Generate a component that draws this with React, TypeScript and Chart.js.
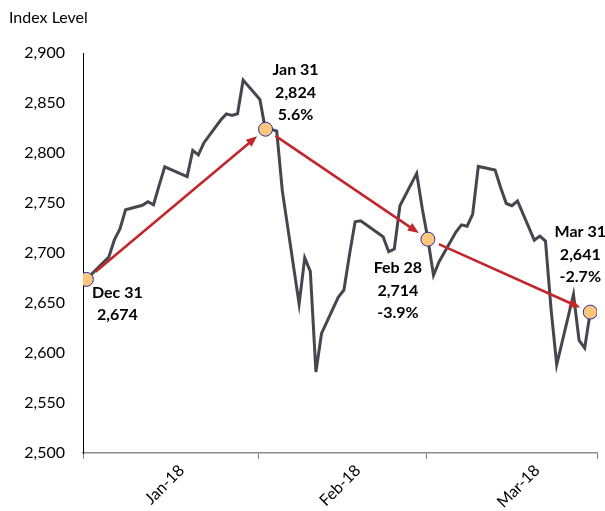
import React, { useEffect, useRef } from 'react';
import { Chart, registerables } from 'chart.js';

Chart.register(...registerables);

// ---- Data ----
const dates = [
  '2017-12-29', '2018-01-02', '2018-01-03', '2018-01-04', '2018-01-05', '2018-01-08', '2018-01-09',
  '2018-01-10', '2018-01-11', '2018-01-12', '2018-01-16', '2018-01-17', '2018-01-18', '2018-01-19',
  '2018-01-22', '2018-01-23', '2018-01-24', '2018-01-25', '2018-01-26', '2018-01-29', '2018-01-30',
  '2018-01-31', '2018-02-01', '2018-02-02', '2018-02-05', '2018-02-06', '2018-02-07', '2018-02-08',
  '2018-02-09', '2018-02-12', '2018-02-13', '2018-02-14', '2018-02-15', '2018-02-16', '2018-02-20',
  '2018-02-21', '2018-02-22', '2018-02-23', '2018-02-26', '2018-02-27', '2018-02-28', '2018-03-01',
  '2018-03-02', '2018-03-05', '2018-03-06', '2018-03-07', '2018-03-08', '2018-03-09', '2018-03-12',
  '2018-03-13', '2018-03-14', '2018-03-15', '2018-03-16', '2018-03-19', '2018-03-20', '2018-03-21',
  '2018-03-22', '2018-03-23', '2018-03-26', '2018-03-27', '2018-03-28', '2018-03-29',
];
const closes = [
  2673.61, 2695.81, 2713.06, 2723.99, 2743.15, 2747.71, 2751.29,
  2748.23, 2767.56, 2786.24, 2776.42, 2802.56, 2798.03, 2810.30,
  2832.97, 2839.13, 2837.54, 2839.25, 2872.87, 2853.53, 2822.43,
  2823.81, 2821.98, 2762.13, 2648.94, 2695.14, 2681.66, 2581.00,
  2619.55, 2656.00, 2662.94, 2698.63, 2731.20, 2732.22, 2716.26,
  2701.33, 2703.96, 2747.30, 2779.60, 2744.28, 2713.83, 2677.67,
  2691.25, 2720.94, 2728.12, 2726.80, 2738.97, 2786.57, 2783.02,
  2765.31, 2749.48, 2747.33, 2752.01, 2712.92, 2716.94, 2711.93,
  2643.69, 2588.26, 2658.55, 2612.62, 2605.00, 2640.87,
];
const markerDates = ['2017-12-29', '2018-01-30', '2018-02-28', '2018-03-29'];
const markerValues = [2673.61, 2823.81, 2713.83, 2640.87];
const markerTitles = ['Dec 31', 'Jan 31', 'Feb 28', 'Mar 31'];
const monthLabels = ['Jan-18', 'Feb-18', 'Mar-18'];
const yMin = 2500;
const yMax = 2900;
const yStep = 50;
const axisTitle = 'Index Level';

// ---- Helpers ----
const BASE = Date.UTC(2017, 11, 29);
const dayOf = (s: string) => (Date.parse(s) - BASE) / 86400000;

// x-scale layout (days from first observation)
const X_MIN = -0.6;
const X_MAX = 91.2;
const MONTH_BOUNDS = [X_MIN, 30.8, 60.8, X_MAX];
const MONTH_LABEL_POS = [17, 48.5, 80.5];

const FONT = 'Lato, "Open Sans", sans-serif';

const fmtNum = (v: number) => Math.round(v).toLocaleString('en-US');

// label offsets relative to marker (pixels)
const LABEL_OFFSETS = [
  { dx: 31, dy: 13 },
  { dx: 30, dy: -59 },
  { dx: -30, dy: 29 },
  { dx: -10, dy: -80 },
];
const LINE_H = 22.5;

const annotPlugin = {
  id: 'annot',
  afterDatasetsDraw(chart: any) {
    const { ctx, scales } = chart;
    const xs = scales.x;
    const ys = scales.y;
    const pts = markerDates.map((d, i) => ({
      x: xs.getPixelForValue(dayOf(d)),
      y: ys.getPixelForValue(markerValues[i]),
    }));
    ctx.save();
    const red = '#C1272D';
    for (let i = 0; i < pts.length - 1; i++) {
      const a = pts[i];
      const b = pts[i + 1];
      const dx = b.x - a.x;
      const dy = b.y - a.y;
      const len = Math.hypot(dx, dy);
      const ux = dx / len;
      const uy = dy / len;
      const sx = a.x + ux * 12;
      const sy = a.y + uy * 12;
      const ex = b.x - ux * 11;
      const ey = b.y - uy * 11;
      const head = 11;
      const hw = 4.5;
      ctx.strokeStyle = red;
      ctx.lineWidth = 2.6;
      ctx.lineCap = 'butt';
      ctx.beginPath();
      ctx.moveTo(sx, sy);
      ctx.lineTo(ex - ux * head * 0.8, ey - uy * head * 0.8);
      ctx.stroke();
      ctx.fillStyle = red;
      ctx.beginPath();
      ctx.moveTo(ex, ey);
      ctx.lineTo(ex - ux * head - uy * hw, ey - uy * head + ux * hw);
      ctx.lineTo(ex - ux * head + uy * hw, ey - uy * head - ux * hw);
      ctx.closePath();
      ctx.fill();
    }
    ctx.restore();
  },
  afterDraw(chart: any) {
    const { ctx, scales } = chart;
    const xs = scales.x;
    const ys = scales.y;
    ctx.save();
    ctx.fillStyle = '#000';
    ctx.font = `16px ${FONT}`;
    ctx.textAlign = 'left';
    ctx.textBaseline = 'middle';
    ctx.fillText(axisTitle, 9, 18);
    ctx.font = `bold 16px ${FONT}`;
    ctx.textAlign = 'center';
    markerDates.forEach((d, i) => {
      const px = xs.getPixelForValue(dayOf(d));
      const py = ys.getPixelForValue(markerValues[i]);
      const lines = [markerTitles[i], fmtNum(markerValues[i])];
      if (i > 0) {
        const pct = (markerValues[i] / markerValues[i - 1] - 1) * 100;
        lines.push(pct.toFixed(1) + '%');
      }
      const off = LABEL_OFFSETS[i];
      lines.forEach((t, k) => {
        ctx.fillText(t, px + off.dx, py + off.dy + k * LINE_H);
      });
    });
    ctx.restore();
  },
};

const isBound = (v: number) => MONTH_BOUNDS.some((b) => Math.abs(b - v) < 1e-6);

export default function App() {
  const ref = useRef<HTMLCanvasElement | null>(null);
  useEffect(() => {
    if (!ref.current) return;
    const linePts = dates.map((d, i) => ({ x: dayOf(d), y: closes[i] }));
    const markPts = markerDates.map((d, i) => ({ x: dayOf(d), y: markerValues[i] }));
    const chart = new Chart(ref.current, {
      type: 'line',
      data: {
        datasets: [
          {
            data: markPts,
            showLine: false,
            pointRadius: 7,
            pointHoverRadius: 7,
            pointBackgroundColor: '#FBC77C',
            pointBorderColor: '#2B2B9C',
            pointBorderWidth: 1,
            order: 0,
          },
          {
            data: linePts,
            borderColor: '#46464F',
            borderWidth: 3,
            pointRadius: 0,
            tension: 0,
            fill: false,
            order: 1,
          },
        ],
      },
      options: {
        animation: false,
        responsive: false,
        devicePixelRatio: 1,
        layout: { padding: { left: 0, top: 53, right: 8, bottom: 0 } },
        plugins: { legend: { display: false }, tooltip: { enabled: false } },
        scales: {
          x: {
            type: 'linear',
            min: X_MIN,
            max: X_MAX,
            afterBuildTicks: (s: any) => {
              const vals = [...MONTH_BOUNDS, ...MONTH_LABEL_POS].sort((a, b) => a - b);
              s.ticks = vals.map((v) => ({ value: v }));
            },
            afterFit: (s: any) => {
              s.height = 58;
              s.paddingLeft = 0;
              s.paddingRight = 0;
            },
            ticks: {
              autoSkip: false,
              minRotation: 45,
              maxRotation: 45,
              padding: 2,
              color: '#000',
              font: { family: FONT, size: 16 },
              callback: (v: any) => {
                const idx = MONTH_LABEL_POS.findIndex((p) => Math.abs(p - v) < 1e-6);
                return idx >= 0 ? monthLabels[idx] : '';
              },
            },
            grid: {
              drawOnChartArea: false,
              drawTicks: true,
              tickLength: 6,
              lineWidth: 1,
              color: (c: any) => (c.tick && isBound(c.tick.value) ? '#7F7F7F' : 'rgba(0,0,0,0)'),
            },
            border: { display: true, color: '#8C8C8C', width: 1.5 },
          },
          y: {
            min: yMin,
            max: yMax,
            afterFit: (s: any) => {
              s.width = 83;
              s.paddingTop = 0;
              s.paddingBottom = 0;
            },
            ticks: {
              stepSize: yStep,
              padding: 18,
              color: '#000',
              font: { family: FONT, size: 16 },
              callback: (v: any) => Number(v).toLocaleString('en-US'),
            },
            grid: { drawOnChartArea: false, drawTicks: false },
            border: { display: true, color: '#000', width: 1 },
          },
        },
      },
      plugins: [annotPlugin],
    });
    return () => chart.destroy();
  }, []);
  return (
    <div style={{ position: 'absolute', left: 0, top: 0, width: 605, height: 511, background: '#fff' }}>
      <canvas ref={ref} width={605} height={511} />
    </div>
  );
}
